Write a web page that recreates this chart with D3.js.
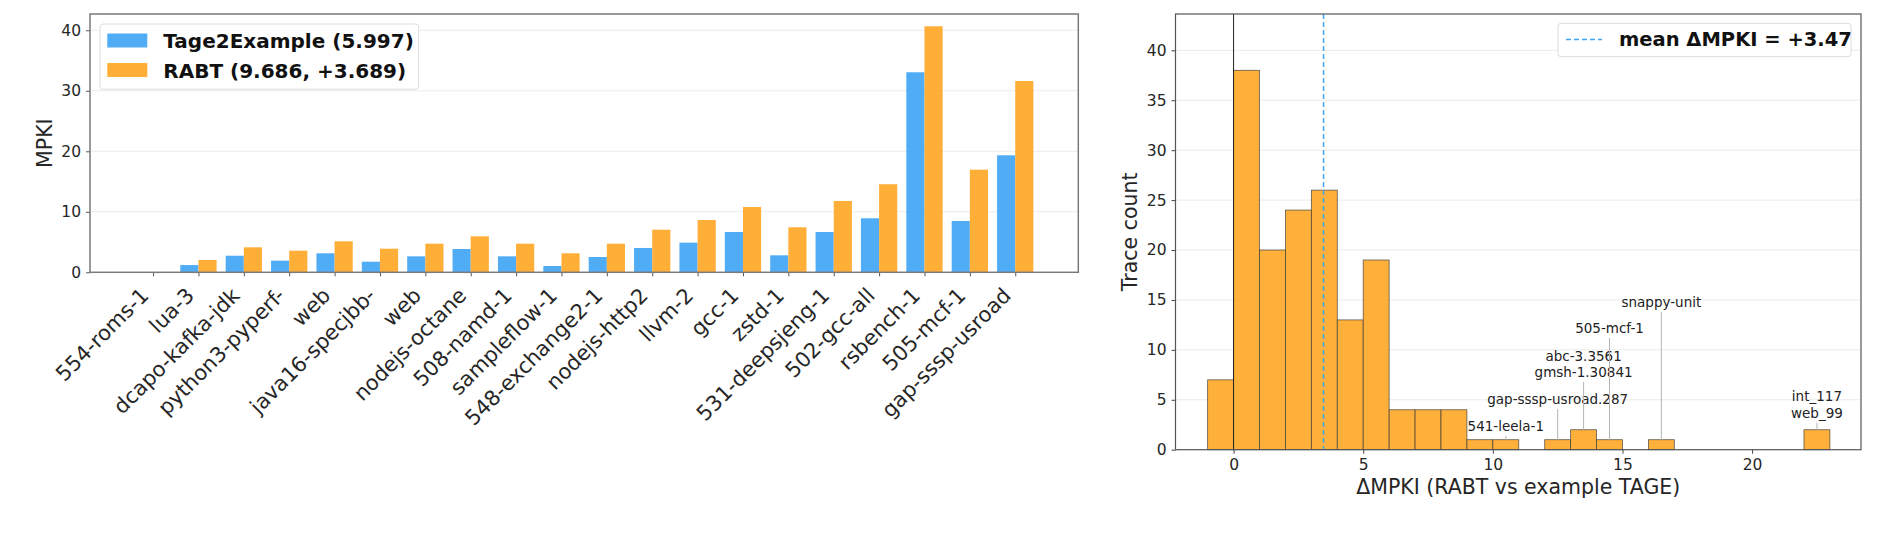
<!DOCTYPE html>
<html><head><meta charset="utf-8">
<script src="https://cdn.jsdelivr.net/npm/d3@7"></script>
<style>
body{margin:0;background:#fff;}
svg text{font-family:"DejaVu Sans","Liberation Sans",sans-serif;}
</style></head><body>
<svg id="chart" width="1895" height="535"></svg>
<script>
// ---------- data: left chart ----------
const categories = ["554-roms-1","lua-3","dcapo-kafka-jdk","python3-pyperf-","web","java16-specjbb-","web","nodejs-octane","508-namd-1","sampleflow-1","548-exchange2-1","nodejs-http2","llvm-2","gcc-1","zstd-1","531-deepsjeng-1","502-gcc-all","rsbench-1","505-mcf-1","gap-sssp-usroad"];
const tageValues = [0.02,1.2,2.74,1.92,3.14,1.75,2.64,3.85,2.64,1.04,2.53,4.02,4.9,6.66,2.81,6.66,8.93,33.06,8.48,19.34];
const rabtValues = [0.03,2.03,4.13,3.57,5.12,3.9,4.73,5.95,4.73,3.14,4.73,7.04,8.64,10.79,7.44,11.79,14.55,40.66,16.96,31.62];
const seriesNames = ["Tage2Example (5.997)","RABT (9.686, +3.689)"];
const barYTicks = [0,10,20,30,40];

// ---------- data: right chart (histogram of delta MPKI) ----------
const binStarts = [-1,0,1,2,3,4,5,6,7,8,9,10,11,12,13,14,15,16,17,18,19,20,21,22];
const binCounts = [7,38,20,24,26,13,19,4,4,4,1,1,0,1,2,1,0,1,0,0,0,0,0,2];
const binWidth = 1;
const meanDelta = 3.47;
const histXTicks = [0,5,10,15,20];
const histYTicks = [0,5,10,15,20,25,30,35,40];
const annotX = [10.5,12.5,13.5,14.5,16.5,22.5];
const annotCount = [1,1,2,1,1,2];
const annotLabelY = [1.9,4.57,7.3,11.67,14.3,3.2];
const annotLabels = [["541-leela-1"],["gap-sssp-usroad.287"],["abc-3.3561","gmsh-1.30841"],["505-mcf-1"],["snappy-unit"],["int_117","web_99"]];

const BLUE = "#42A5F5", ORANGE = "#FFA726";
const svg = d3.select("#chart");

// ================= LEFT CHART =================
const L = {l:90, r:1078.3, t:14, b:272.3};
const xL = d3.scaleLinear().domain([-1.39, 20.39]).range([L.l, L.r]);
const yL = d3.scaleLinear().domain([0, 42.69]).range([L.b, L.t]);
const gL = svg.append("g");
const bw = 0.4;

gL.selectAll(".gridL").data(barYTicks.filter(d=>d>0)).enter().append("line")
  .attr("x1", L.l).attr("x2", L.r).attr("y1", d=>yL(d)).attr("y2", d=>yL(d))
  .attr("stroke", "#ebebeb").attr("stroke-width", 1);

const idx = d3.range(categories.length);
gL.selectAll(".tb").data(idx).enter().append("rect")
  .attr("x", i=>xL(i-bw)).attr("width", i=>xL(i)-xL(i-bw))
  .attr("y", i=>yL(tageValues[i])).attr("height", i=>yL(0)-yL(tageValues[i]))
  .attr("fill", BLUE).attr("fill-opacity", 0.92);
gL.selectAll(".rb").data(idx).enter().append("rect")
  .attr("x", i=>xL(i)).attr("width", i=>xL(i+bw)-xL(i))
  .attr("y", i=>yL(rabtValues[i])).attr("height", i=>yL(0)-yL(rabtValues[i]))
  .attr("fill", ORANGE).attr("fill-opacity", 0.92);

// axes
const axYL = gL.append("g").attr("transform", `translate(${L.l},0)`)
  .call(d3.axisLeft(yL).tickValues(barYTicks).tickSize(4).tickPadding(5));
axYL.select(".domain").remove();
axYL.selectAll("line").attr("stroke","#555");
axYL.selectAll("text").attr("font-size","15.5px").attr("fill","#262626");

const axXL = gL.append("g").attr("transform", `translate(0,${L.b})`)
  .call(d3.axisBottom(xL).tickValues(idx).tickFormat(i=>categories[i]).tickSize(4));
axXL.select(".domain").remove();
axXL.selectAll("line").attr("stroke","#555");
axXL.selectAll("text").attr("font-size","21px").attr("fill","#262626")
  .attr("text-anchor","end").attr("y",null).attr("dy",null)
  .attr("transform","translate(-3.5,24.5) rotate(-45)");

gL.append("rect").attr("x",L.l).attr("y",L.t).attr("width",L.r-L.l).attr("height",L.b-L.t)
  .attr("fill","none").attr("stroke","#7a7a7a").attr("stroke-width",1.5);

gL.append("text").attr("transform",`translate(51.5,${(L.t+L.b)/2}) rotate(-90)`)
  .attr("text-anchor","middle").attr("font-size","20.5px").attr("fill","#262626").text("MPKI");

// legend left
const lgL = gL.append("g");
lgL.append("rect").attr("x",100).attr("y",24).attr("width",318.6).attr("height",65.3)
  .attr("rx",3).attr("fill","#fff").attr("fill-opacity",0.85).attr("stroke","#dcdcdc").attr("stroke-width",1);
[BLUE, ORANGE].forEach((c,k)=>{
  lgL.append("rect").attr("x",107.3).attr("y",33.5+k*29.5).attr("width",40).attr("height",14)
    .attr("fill",c).attr("fill-opacity",0.92);
  lgL.append("text").attr("x",163.3).attr("y",48.3+k*29.2).attr("font-size","20px")
    .attr("font-weight","bold").attr("fill","#111").text(seriesNames[k]);
});

// ================= RIGHT CHART =================
const R = {l:1175.5, r:1861, t:14, b:449.7};
const xR = d3.scaleLinear().domain([-2.24, 24.2]).range([R.l, R.r]);
const yR = d3.scaleLinear().domain([0, 43.64]).range([R.b, R.t]);
const gR = svg.append("g");

gR.selectAll(".gridR").data(histYTicks.filter(d=>d>0)).enter().append("line")
  .attr("x1", R.l).attr("x2", R.r).attr("y1", d=>yR(d)).attr("y2", d=>yR(d))
  .attr("stroke", "#ebebeb").attr("stroke-width", 1);

const bins = d3.range(binStarts.length).filter(i=>binCounts[i]>0);
gR.selectAll(".hb").data(bins).enter().append("rect")
  .attr("x", i=>xR(binStarts[i])).attr("width", i=>xR(binStarts[i]+binWidth)-xR(binStarts[i]))
  .attr("y", i=>yR(binCounts[i])).attr("height", i=>yR(0)-yR(binCounts[i]))
  .attr("fill", ORANGE).attr("fill-opacity", 0.9)
  .attr("stroke", "#3a3a3a").attr("stroke-opacity",0.8).attr("stroke-width", 0.8);

// zero line
gR.append("line").attr("x1",xR(0)).attr("x2",xR(0)).attr("y1",R.t).attr("y2",R.b)
  .attr("stroke","#222").attr("stroke-width",1);
// mean line
gR.append("line").attr("x1",xR(meanDelta)).attr("x2",xR(meanDelta)).attr("y1",R.t).attr("y2",R.b)
  .attr("stroke",BLUE).attr("stroke-width",1.5).attr("stroke-dasharray","5,3");

// annotations
annotX.forEach((x,k)=>{
  gR.append("line").attr("x1",xR(x)).attr("x2",xR(x))
    .attr("y1",yR(annotLabelY[k])+5).attr("y2",yR(annotCount[k]))
    .attr("stroke","#b5b5b5").attr("stroke-width",1);
  const lines = annotLabels[k];
  lines.forEach((s,j)=>{
    gR.append("text").attr("x",xR(x)).attr("y",yR(annotLabelY[k]) - (lines.length-1-j)*16.3)
      .attr("text-anchor","middle").attr("font-size","13.5px").attr("fill","#222").text(s);
  });
});

const axYR = gR.append("g").attr("transform", `translate(${R.l},0)`)
  .call(d3.axisLeft(yR).tickValues(histYTicks).tickSize(4).tickPadding(5));
axYR.select(".domain").remove();
axYR.selectAll("line").attr("stroke","#444");
axYR.selectAll("text").attr("font-size","15.5px").attr("fill","#262626");

const axXR = gR.append("g").attr("transform", `translate(0,${R.b})`)
  .call(d3.axisBottom(xR).tickValues(histXTicks).tickSize(4).tickPadding(5));
axXR.select(".domain").remove();
axXR.selectAll("line").attr("stroke","#444");
axXR.selectAll("text").attr("font-size","15.5px").attr("fill","#262626");

gR.append("rect").attr("x",R.l).attr("y",R.t).attr("width",R.r-R.l).attr("height",R.b-R.t)
  .attr("fill","none").attr("stroke","#555").attr("stroke-width",1.2);

gR.append("text").attr("transform",`translate(1137,${(R.t+R.b)/2}) rotate(-90)`)
  .attr("text-anchor","middle").attr("font-size","20.5px").attr("fill","#262626").text("Trace count");
gR.append("text").attr("x",(R.l+R.r)/2).attr("y",494)
  .attr("text-anchor","middle").attr("font-size","20.5px").attr("fill","#262626").text("ΔMPKI (RABT vs example TAGE)");

// legend right
const lgR = gR.append("g");
lgR.append("rect").attr("x",1558).attr("y",23.3).attr("width",293).attr("height",33.4)
  .attr("rx",3).attr("fill","#fff").attr("fill-opacity",0.85).attr("stroke","#dcdcdc").attr("stroke-width",1);
lgR.append("line").attr("x1",1566).attr("x2",1602).attr("y1",39.5).attr("y2",39.5)
  .attr("stroke",BLUE).attr("stroke-width",1.5).attr("stroke-dasharray","5,3");
lgR.append("text").attr("x",1619).attr("y",46.3).attr("font-size","19.5px")
  .attr("font-weight","bold").attr("fill","#111").text("mean ΔMPKI = +" + meanDelta.toFixed(2));
</script>
</body></html>
